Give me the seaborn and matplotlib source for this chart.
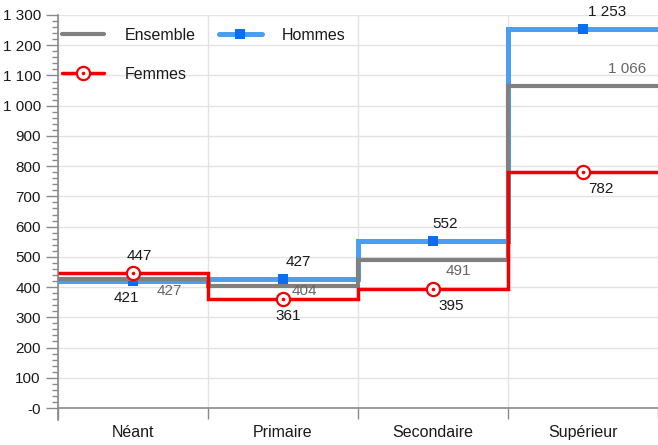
import matplotlib
matplotlib.use("Agg")
import matplotlib.pyplot as plt
from matplotlib.lines import Line2D
import seaborn as sns
import pandas as pd

# Niveau d'instruction et valeurs par groupe
categories = ["Néant", "Primaire", "Secondaire", "Supérieur"]
ensemble = [427, 404, 491, 1066]
hommes = [421, 427, 552, 1253]
femmes = [447, 361, 395, 782]

y_ticks = list(range(0, 1301, 100))

# Styles
C_ENS = "#808080"
C_HOM_LINE = "#4a9ff2"
C_HOM_MARK = "#0a6ef0"
C_FEM = "#f00000"
TXT = "#1a1a1a"

sns.set_theme(style="white")
plt.rcParams["font.family"] = ["Liberation Sans", "DejaVu Sans"]

fig = plt.figure(figsize=(6.58, 4.45), dpi=100)
ax = fig.add_axes([57.5 / 658, 37 / 445, 600.5 / 658, 393 / 445])

n = len(categories)
edges = list(range(n + 1))
centers = [i + 0.5 for i in range(n)]


def step_frame(values):
    return pd.DataFrame({"x": edges, "y": list(values) + [values[-1]]})


# Paliers (une marche par catégorie)
sns.lineplot(data=step_frame(hommes), x="x", y="y", ax=ax, color=C_HOM_LINE,
             linewidth=3.6, drawstyle="steps-post", zorder=3,
             solid_joinstyle="miter", solid_capstyle="butt")
sns.lineplot(data=step_frame(ensemble), x="x", y="y", ax=ax, color=C_ENS,
             linewidth=3.0, drawstyle="steps-post", zorder=4,
             solid_joinstyle="miter", solid_capstyle="butt")
sns.lineplot(data=step_frame(femmes), x="x", y="y", ax=ax, color=C_FEM,
             linewidth=2.5, drawstyle="steps-post", zorder=5,
             solid_joinstyle="miter", solid_capstyle="butt")

# Marqueurs au centre de chaque catégorie
ax.plot(centers, hommes, linestyle="none", marker="s", markersize=7.5,
        color=C_HOM_MARK, markeredgewidth=0, zorder=3.5)
ax.plot(centers, femmes, linestyle="none", marker="o", markersize=9.5,
        markerfacecolor="white", markeredgecolor=C_FEM, markeredgewidth=1.6,
        zorder=7)
ax.plot(centers, femmes, linestyle="none", marker="o", markersize=2.6,
        color=C_FEM, markeredgewidth=0, zorder=8)


def fmt(v):
    return f"{v:,}".replace(",", " ")


PX = 72 / 100  # points par pixel

# Étiquettes Hommes / Femmes : au-dessus pour la plus haute, en dessous pour l'autre
hom_dx = [-6, 16, 12, 24]
fem_dx = [7, 6, 18, 18]
for i in range(n):
    h, f = hommes[i], femmes[i]
    h_dy = 17 if h >= f else -17
    f_dy = -h_dy
    ax.annotate(fmt(h), (centers[i], h), xytext=(hom_dx[i] * PX, h_dy * PX),
                textcoords="offset points", ha="center", va="center",
                fontsize=11, color=TXT, zorder=10)
    ax.annotate(fmt(f), (centers[i], f), xytext=(fem_dx[i] * PX, f_dy * PX),
                textcoords="offset points", ha="center", va="center",
                fontsize=11, color=TXT, zorder=10)

# Étiquettes Ensemble
ens_off = [(37, -12), (22, -5), (26, -11), (44, 17)]
for i in range(n):
    dx, dy = ens_off[i]
    ax.annotate(fmt(ensemble[i]), (centers[i], ensemble[i]),
                xytext=(dx * PX, dy * PX), textcoords="offset points",
                ha="center", va="center", fontsize=11, color="#666666",
                zorder=10)

# Axes
ax.set_xlim(0, n)
ax.set_ylim(0, 1300)
ax.set_xlabel("")
ax.set_ylabel("")

ax.set_yticks(y_ticks)
ax.set_yticklabels(["-0" if t == 0 else fmt(t) for t in y_ticks],
                   fontsize=11, color=TXT)
ax.set_yticks(range(0, 1301, 20), minor=True)

ax.set_xticks(edges)
ax.set_xticklabels([""] * len(edges))
ax.set_xticks(centers, minor=True)
ax.set_xticklabels(categories, minor=True, fontsize=11.5, color=TXT)

ax.tick_params(axis="y", which="major", direction="out", length=9, width=1,
               color="#8a8a8a", pad=3, left=True)
ax.tick_params(axis="y", which="minor", direction="out", length=4, width=1,
               color="#8a8a8a", left=True)
ax.tick_params(axis="x", which="major", direction="out", length=8, width=1,
               color="#8a8a8a", bottom=True)
ax.tick_params(axis="x", which="minor", length=0, pad=12, bottom=True)

ax.grid(True, which="major", axis="both", color="#e3e3e3", linewidth=1)
ax.set_axisbelow(True)

for side in ("top", "right"):
    ax.spines[side].set_visible(False)
for side in ("left", "bottom"):
    ax.spines[side].set_color("#8a8a8a")
    ax.spines[side].set_linewidth(1.2)
ax.spines["left"].set_bounds(-40, 1300)

# Légende
h_ens = Line2D([], [], color=C_ENS, linewidth=3.0)
h_hom = Line2D([], [], color=C_HOM_LINE, linewidth=3.6, marker="s",
               markersize=7.5, markerfacecolor=C_HOM_MARK,
               markeredgewidth=0)
h_fem = (Line2D([], [], color=C_FEM, linewidth=2.5, marker="o",
                markersize=9.5, markerfacecolor="white",
                markeredgecolor=C_FEM, markeredgewidth=1.6),
         Line2D([], [], linestyle="none", marker="o", markersize=2.6,
                color=C_FEM, markeredgewidth=0))
leg = ax.legend([h_ens, h_fem, h_hom], ["Ensemble", "Femmes", "Hommes"],
                ncol=2, loc="upper left", bbox_to_anchor=(0.0075, 0.968),
                frameon=False, borderpad=0, borderaxespad=0,
                handlelength=2.65, handletextpad=1.25, columnspacing=1.5,
                labelspacing=1.5, fontsize=11.5, numpoints=1)
for t in leg.get_texts():
    t.set_color(TXT)

fig.savefig("out.png", dpi=100)
